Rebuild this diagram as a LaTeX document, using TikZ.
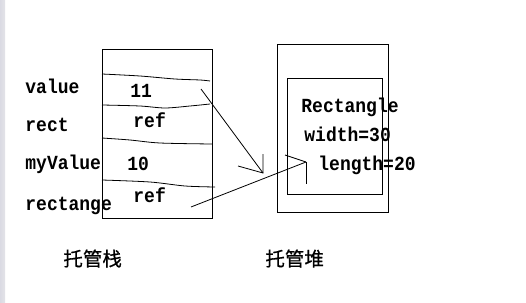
\documentclass[tikz,border=0pt]{standalone}
\usepackage{fontspec}
\newfontfamily\lat[FakeStretch=0.9]{Liberation Mono}
\newfontfamily\cjk[FakeBold=0.6]{Noto Sans CJK SC}
\begin{document}
\begin{tikzpicture}[x=1pt,y=-1pt,line width=0.8pt,
  lbl/.style={anchor=base west,inner sep=0pt,font=\lat\bfseries\fontsize{20}{20}\selectfont},
  cn/.style={anchor=base west,inner sep=0pt,font=\cjk\fontsize{19.5}{19.5}\selectfont}]
\useasboundingbox[fill=white] (0,0) rectangle (526,302);
\fill[left color=black!5!blue!15!gray!25!white,right color=black!5!blue!10!gray!20!white,draw=none] (0,0) rectangle (5,302);
% stack
\node[draw,anchor=north west,inner sep=0pt,minimum width=110pt,minimum height=169pt] (stack) at (102,49) {};
\draw plot[smooth] coordinates {(102,74) (140,76) (175,79) (200,80) (210,81)};
\draw plot[smooth] coordinates {(102,105) (140,106) (165,108) (190,106) (210,104)};
\draw plot[smooth] coordinates {(102,138) (130,140) (160,143) (212,144)};
\draw plot[smooth] coordinates {(102,180) (150,182) (185,186) (215,187)};
\node[lbl] (nvalue) at (25,93) {value};
\node[lbl] (nrect) at (25,131) {rect};
\node[lbl] (nmy) at (25,169) {myValue};
\node[lbl] (nrectange) at (25,210) {rectange};
\node[lbl] (v11) at (130,97) {11};
\node[lbl] (ref1) at (133,127) {ref};
\node[lbl] (v10) at (127,170) {10};
\node[lbl] (ref2) at (133,202) {ref};
% heap
\node[draw,anchor=north west,inner sep=0pt,minimum width=111pt,minimum height=168pt] (heap) at (277,44) {};
\node[draw,anchor=north west,inner sep=0pt,minimum width=95pt,minimum height=116pt] (obj) at (287,78) {};
\node[lbl] (tRect) at (301,112) {Rectangle};
\node[lbl] (tWidth) at (304,141) {width=30};
\node[lbl] (tLen) at (318,170) {length=20};
% arrows
\coordinate (a1s) at (201,89);
\coordinate (a1t) at (263,173);
\coordinate (a1b1) at (238,166);
\coordinate (a1b2) at (263,154);
\draw (a1s) -- (a1t);
\draw (a1b1) -- (a1t) -- (a1b2);
\coordinate (a2s) at (191,207);
\coordinate (a2t) at (306,162);
\coordinate (a2b1) at (285,155);
\coordinate (a2b2) at (306,184);
\draw (a2s) -- (a2t);
\draw (a2b1) -- (a2t);
\draw ([xshift=0.7pt]a2t) -- ([xshift=0.7pt]a2b2);
% captions
\node[cn] (cstack) at (63,266) {托管栈};
\node[cn] (cheap) at (265,266) {托管堆};
\end{tikzpicture}
\end{document}
